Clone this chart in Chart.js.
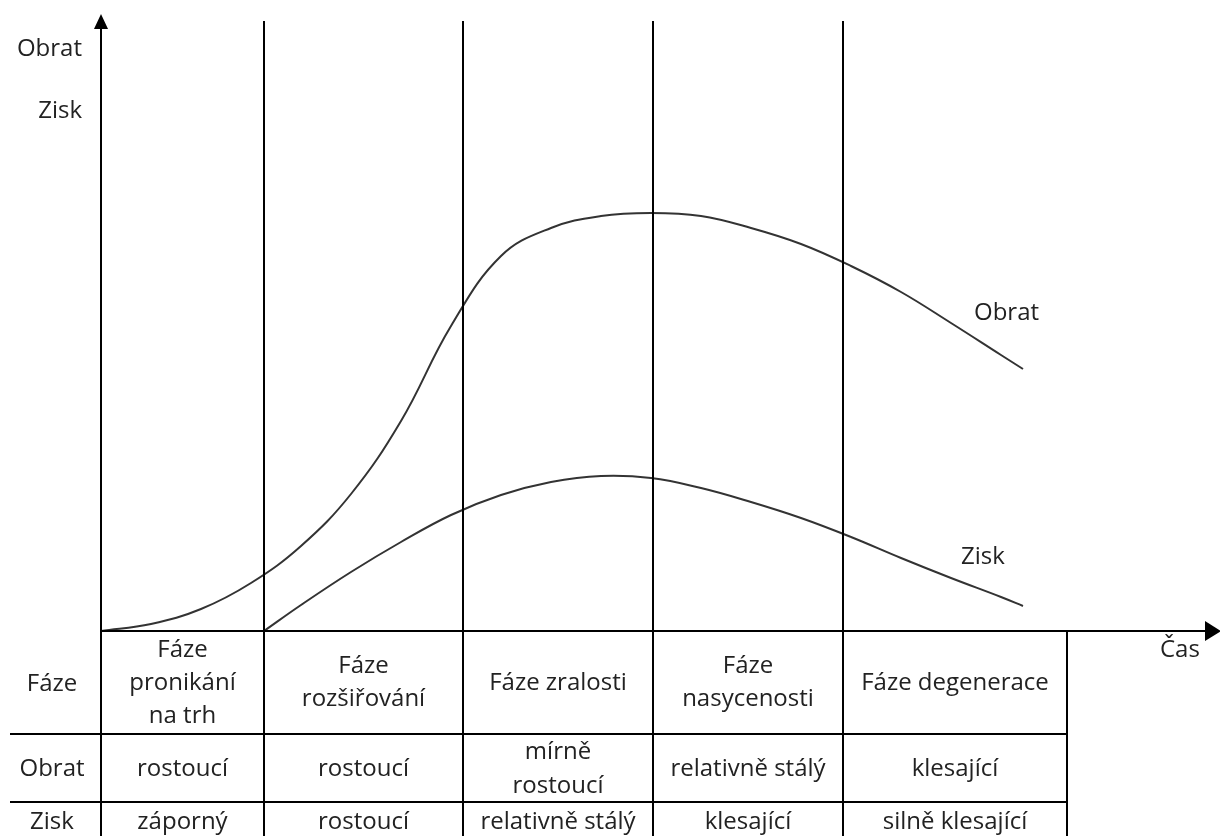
<!DOCTYPE html>
<html>
<head>
<meta charset="utf-8">
<script src="https://cdn.jsdelivr.net/npm/chart.js@4/dist/chart.umd.min.js"></script>
<style>
  html, body { margin: 0; padding: 0; background: #fff; }
  canvas { display: block; }
</style>
</head>
<body>
<canvas id="lifeCycle" width="1220" height="836"></canvas>
<script>
// time axis (x) and value axis (y) are in arbitrary units
const obratX = [0, 50, 100, 150, 200, 250, 300, 350, 400, 450, 500, 550, 600, 650, 700, 750, 800, 850, 900, 922];
const obratY = [0, 7, 22, 48, 85, 137, 210, 305, 375, 403, 415, 418, 415, 403, 387, 365, 339, 308, 276, 262];
const ziskX = [163, 200, 250, 300, 350, 400, 450, 500, 550, 600, 650, 700, 750, 800, 850, 900, 922];
const ziskY = [0, 26, 59, 89, 116, 136, 149, 155, 153, 143, 129, 113, 94, 73, 53, 34, 25];

const phaseEnds = [163, 362, 552, 742, 966];
const phaseNames = [["Fáze", "pronikání", "na trh"], ["Fáze", "rozšiřování"], ["Fáze zralosti"], ["Fáze", "nasycenosti"], ["Fáze degenerace"]];
const obratTrend = [["rostoucí"], ["rostoucí"], ["mírně", "rostoucí"], ["relativně stálý"], ["klesající"]];
const ziskTrend = [["záporný"], ["rostoucí"], ["relativně stálý"], ["klesající"], ["silně klesající"]];
const rowLabels = ["Fáze", "Obrat", "Zisk"];

const FONT = '24px "Open Sans", Lato, sans-serif';
const INK = "#222";

function toPoints(xs, ys) {
  return xs.map((x, i) => ({ x: x, y: ys[i] }));
}

function drawLines(ctx, lines, cx, cy, gap) {
  const top = cy - ((lines.length - 1) * gap) / 2;
  lines.forEach((t, i) => ctx.fillText(t, cx, top + i * gap));
}

const scheme = {
  id: "scheme",
  afterDatasetsDraw(chart) {
    const { ctx, scales: { x, y } } = chart;
    const x0 = x.getPixelForValue(0);
    const y0 = y.getPixelForValue(0);
    const bottom = chart.height;
    const row1 = 734, row2 = 802;

    ctx.save();
    ctx.strokeStyle = "#000";
    ctx.lineWidth = 2;

    // axes
    ctx.beginPath();
    ctx.moveTo(x0, bottom);
    ctx.lineTo(x0, 26);
    ctx.moveTo(x0, y0);
    ctx.lineTo(1207, y0);
    ctx.stroke();
    ctx.fillStyle = "#000";
    ctx.beginPath();
    ctx.moveTo(x0, 14);
    ctx.lineTo(x0 - 7, 29);
    ctx.lineTo(x0 + 7, 29);
    ctx.closePath();
    ctx.fill();
    ctx.beginPath();
    ctx.moveTo(1221, y0);
    ctx.lineTo(1205, y0 - 10);
    ctx.lineTo(1205, y0 + 10);
    ctx.closePath();
    ctx.fill();

    // phase separators and table frame
    const ends = phaseEnds.map((v) => Math.round(x.getPixelForValue(v)));
    ctx.beginPath();
    ends.forEach((px, i) => {
      const last = i === ends.length - 1;
      ctx.moveTo(px, last ? y0 : 21);
      ctx.lineTo(px, bottom);
    });
    ctx.moveTo(10, row1);
    ctx.lineTo(ends[ends.length - 1], row1);
    ctx.moveTo(10, row2);
    ctx.lineTo(ends[ends.length - 1], row2);
    ctx.stroke();

    // text
    ctx.fillStyle = INK;
    ctx.font = FONT;
    ctx.textBaseline = "middle";
    ctx.textAlign = "right";
    ctx.fillText("Obrat", 82, 49);
    ctx.fillText("Zisk", 82, 111);
    ctx.textAlign = "left";
    ctx.fillText("Obrat", 974, 313);
    ctx.fillText("Zisk", 961, 557);
    ctx.fillText("Čas", 1160, 650);

    ctx.textAlign = "center";
    drawLines(ctx, [rowLabels[0]], 52, 684, 33);
    drawLines(ctx, [rowLabels[1]], 52, 769, 33);
    drawLines(ctx, [rowLabels[2]], 52, 822, 33);
    let left = x0;
    ends.forEach((px, i) => {
      const cx = (left + px) / 2;
      drawLines(ctx, phaseNames[i], cx, 683, 33);
      drawLines(ctx, obratTrend[i], cx, 769, 34);
      drawLines(ctx, ziskTrend[i], cx, 822, 33);
      left = px;
    });
    ctx.restore();
  }
};

const curveStyle = {
  showLine: true,
  borderColor: "#333",
  borderWidth: 2,
  pointRadius: 0,
  tension: 0.4,
  fill: false,
  clip: false
};

new Chart(document.getElementById("lifeCycle").getContext("2d"), {
  type: "scatter",
  data: {
    datasets: [
      { label: "Obrat", data: toPoints(obratX, obratY), ...curveStyle },
      { label: "Zisk", data: toPoints(ziskX, ziskY), ...curveStyle }
    ]
  },
  options: {
    responsive: false,
    animation: false,
    devicePixelRatio: 1,
    layout: { padding: { left: 101, right: 0, top: 14, bottom: 205 } },
    plugins: { legend: { display: false }, tooltip: { enabled: false }, title: { display: false } },
    scales: {
      x: { type: "linear", min: 0, max: 1119, display: false },
      y: { type: "linear", min: 0, max: 617, display: false }
    }
  },
  plugins: [scheme]
});
</script>
</body>
</html>
